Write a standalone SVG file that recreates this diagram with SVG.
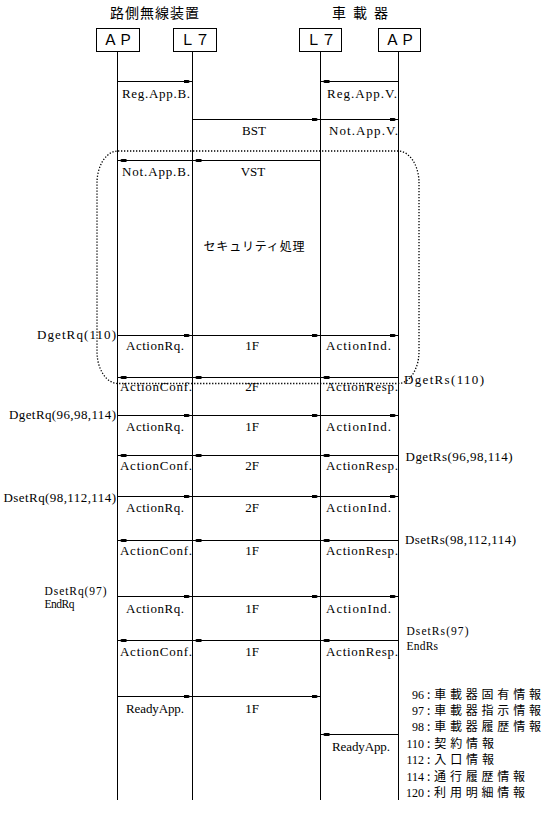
<svg xmlns="http://www.w3.org/2000/svg" width="547" height="835" viewBox="0 0 547 835">
<style>
.bg{fill:#fff}
.box{fill:#fff;stroke:#000;stroke-width:1}
.life{stroke:#000;stroke-width:1}
.msg{stroke:#000;stroke-width:1;marker-end:url(#h)}
.dot{fill:none;stroke:#000;stroke-width:1.3;stroke-dasharray:1.3 1.7}
.lb{font-family:"Liberation Serif",serif;font-size:13px;fill:#000}
.sm{font-size:11.5px}
.jp{font-family:"Noto Sans CJK JP",sans-serif;fill:#000}
.lg{font-size:12px}
.mid{text-anchor:middle}
.end{text-anchor:end}
</style>
<defs>
<marker id="h" viewBox="0 -2 8 4" markerWidth="8" markerHeight="4" refX="9" refY="0" orient="auto" markerUnits="userSpaceOnUse">
<path d="M0,-1.5 L5,-1.5 L7,0 L5,1.5 L0,1.5 z" fill="#000"/>
</marker>
</defs>
<rect class="bg" x="0" y="0" width="547" height="835"/>
<g id="titles">
<text class="jp mid" x="154.5" y="18" font-size="14" textLength="89" lengthAdjust="spacing">路側無線装置</text>
<text class="jp mid" x="360" y="18" font-size="14" textLength="56" lengthAdjust="spacing">車 載 器</text>
</g>
<g id="ap_rsu">
<rect class="box" x="96.5" y="28.5" width="43" height="23"/>
<text class="jp mid" x="118" y="45" font-size="15">ＡＰ</text>
<line class="life" x1="117.5" y1="51.5" x2="117.5" y2="800"/>
</g>
<g id="l7_rsu">
<rect class="box" x="173.5" y="28.5" width="43" height="23"/>
<text class="jp mid" x="195" y="45" font-size="15">Ｌ７</text>
<line class="life" x1="192.5" y1="51.5" x2="192.5" y2="800"/>
</g>
<g id="l7_obu">
<rect class="box" x="299.5" y="28.5" width="42" height="23"/>
<text class="jp mid" x="321" y="45" font-size="15">Ｌ７</text>
<line class="life" x1="320.5" y1="51.5" x2="320.5" y2="800"/>
</g>
<g id="ap_obu">
<rect class="box" x="378.5" y="28.5" width="42" height="23"/>
<text class="jp mid" x="400" y="45" font-size="15">ＡＰ</text>
<line class="life" x1="398.5" y1="51.5" x2="398.5" y2="800"/>
</g>
<g id="security">
<rect class="dot" x="97" y="151" width="322" height="232.5" rx="21" ry="32"/>
<text class="jp mid" x="254" y="250.5" font-size="12" textLength="101" lengthAdjust="spacing">セキュリティ処理</text>
</g>
<g id="connectors">
<line class="msg" x1="117.5" y1="81.5" x2="192.5" y2="81.5"/>
<line class="msg" x1="398.5" y1="81.5" x2="320.5" y2="81.5"/>
<line class="msg" x1="192.5" y1="119.5" x2="320.5" y2="119.5"/>
<line class="msg" x1="320.5" y1="119.5" x2="398.5" y2="119.5"/>
<line class="msg" x1="320.5" y1="160.5" x2="192.5" y2="160.5"/>
<line class="msg" x1="192.5" y1="160.5" x2="117.5" y2="160.5"/>
<line class="msg" x1="117.5" y1="335.5" x2="192.5" y2="335.5"/>
<line class="msg" x1="192.5" y1="335.5" x2="320.5" y2="335.5"/>
<line class="msg" x1="320.5" y1="335.5" x2="398.5" y2="335.5"/>
<line class="msg" x1="398.5" y1="377.5" x2="320.5" y2="377.5"/>
<line class="msg" x1="320.5" y1="377.5" x2="192.5" y2="377.5"/>
<line class="msg" x1="192.5" y1="377.5" x2="117.5" y2="377.5"/>
<line class="msg" x1="117.5" y1="415.5" x2="192.5" y2="415.5"/>
<line class="msg" x1="192.5" y1="415.5" x2="320.5" y2="415.5"/>
<line class="msg" x1="320.5" y1="415.5" x2="398.5" y2="415.5"/>
<line class="msg" x1="398.5" y1="455.5" x2="320.5" y2="455.5"/>
<line class="msg" x1="320.5" y1="455.5" x2="192.5" y2="455.5"/>
<line class="msg" x1="192.5" y1="455.5" x2="117.5" y2="455.5"/>
<line class="msg" x1="117.5" y1="496.5" x2="192.5" y2="496.5"/>
<line class="msg" x1="192.5" y1="496.5" x2="320.5" y2="496.5"/>
<line class="msg" x1="320.5" y1="496.5" x2="398.5" y2="496.5"/>
<line class="msg" x1="398.5" y1="540.5" x2="320.5" y2="540.5"/>
<line class="msg" x1="320.5" y1="540.5" x2="192.5" y2="540.5"/>
<line class="msg" x1="192.5" y1="540.5" x2="117.5" y2="540.5"/>
<line class="msg" x1="117.5" y1="596.5" x2="192.5" y2="596.5"/>
<line class="msg" x1="192.5" y1="596.5" x2="320.5" y2="596.5"/>
<line class="msg" x1="320.5" y1="596.5" x2="398.5" y2="596.5"/>
<line class="msg" x1="398.5" y1="640.5" x2="320.5" y2="640.5"/>
<line class="msg" x1="320.5" y1="640.5" x2="192.5" y2="640.5"/>
<line class="msg" x1="192.5" y1="640.5" x2="117.5" y2="640.5"/>
<line class="msg" x1="117.5" y1="696.5" x2="192.5" y2="696.5"/>
<line class="msg" x1="192.5" y1="696.5" x2="320.5" y2="696.5"/>
<line class="msg" x1="398.5" y1="734.5" x2="320.5" y2="734.5"/>
</g>
<g id="labels">
<text class="lb" x="122" y="97.5" textLength="68" lengthAdjust="spacing">Reg.App.B.</text>
<text class="lb" x="327" y="97.5" textLength="70" lengthAdjust="spacing">Reg.App.V.</text>
<text class="lb mid" x="254" y="135">BST</text>
<text class="lb" x="329" y="135" textLength="69" lengthAdjust="spacing">Not.App.V.</text>
<text class="lb" x="122" y="176" textLength="68" lengthAdjust="spacing">Not.App.B.</text>
<text class="lb mid" x="253" y="176">VST</text>

<text class="lb" x="37" y="339" textLength="79" lengthAdjust="spacing">DgetRq(110)</text>
<text class="lb" x="126" y="349.5" textLength="58" lengthAdjust="spacing">ActionRq.</text>
<text class="lb mid" x="252" y="349.5">1F</text>
<text class="lb" x="326" y="349.5" textLength="65" lengthAdjust="spacing">ActionInd.</text>

<text class="lb" x="404" y="383.5" textLength="80" lengthAdjust="spacing">DgetRs(110)</text>
<text class="lb" x="120" y="390.5" textLength="72" lengthAdjust="spacing">ActionConf.</text>
<text class="lb mid" x="252" y="390.5">2F</text>
<text class="lb" x="326" y="390.5" textLength="72" lengthAdjust="spacing">ActionResp.</text>

<text class="lb" x="9" y="418.5" textLength="107" lengthAdjust="spacing">DgetRq(96,98,114)</text>
<text class="lb" x="126" y="431" textLength="58" lengthAdjust="spacing">ActionRq.</text>
<text class="lb mid" x="252" y="431">1F</text>
<text class="lb" x="326" y="431" textLength="65" lengthAdjust="spacing">ActionInd.</text>

<text class="lb" x="405.5" y="461" textLength="107" lengthAdjust="spacing">DgetRs(96,98,114)</text>
<text class="lb" x="120" y="470" textLength="72" lengthAdjust="spacing">ActionConf.</text>
<text class="lb mid" x="252" y="470">2F</text>
<text class="lb" x="326" y="470" textLength="72" lengthAdjust="spacing">ActionResp.</text>

<text class="lb" x="3.5" y="502" textLength="112.5" lengthAdjust="spacing">DsetRq(98,112,114)</text>
<text class="lb" x="126" y="512" textLength="58" lengthAdjust="spacing">ActionRq.</text>
<text class="lb mid" x="252" y="512">2F</text>
<text class="lb" x="326" y="512" textLength="65" lengthAdjust="spacing">ActionInd.</text>

<text class="lb" x="405" y="543.5" textLength="111" lengthAdjust="spacing">DsetRs(98,112,114)</text>
<text class="lb" x="120" y="554.5" textLength="72" lengthAdjust="spacing">ActionConf.</text>
<text class="lb mid" x="252" y="554.5">1F</text>
<text class="lb" x="326" y="554.5" textLength="72" lengthAdjust="spacing">ActionResp.</text>

<text class="lb sm" x="44.5" y="594.5" textLength="62" lengthAdjust="spacing">DsetRq(97)</text>
<text class="lb sm" x="44.5" y="608" textLength="30" lengthAdjust="spacing">EndRq</text>
<text class="lb" x="126" y="612.5" textLength="58" lengthAdjust="spacing">ActionRq.</text>
<text class="lb mid" x="252" y="612.5">1F</text>
<text class="lb" x="326" y="612.5" textLength="65" lengthAdjust="spacing">ActionInd.</text>

<text class="lb sm" x="406.5" y="635" textLength="62" lengthAdjust="spacing">DsetRs(97)</text>
<text class="lb sm" x="406.5" y="649.5" textLength="31.5" lengthAdjust="spacing">EndRs</text>
<text class="lb" x="120" y="656" textLength="72" lengthAdjust="spacing">ActionConf.</text>
<text class="lb mid" x="252" y="656">1F</text>
<text class="lb" x="326" y="656" textLength="72" lengthAdjust="spacing">ActionResp.</text>

<text class="lb" x="126" y="712.5" textLength="58" lengthAdjust="spacing">ReadyApp.</text>
<text class="lb mid" x="252" y="712.5">1F</text>
<text class="lb" x="332" y="750.5" textLength="58" lengthAdjust="spacing">ReadyApp.</text>
</g>
<g id="legend">
<text class="lb lg end" x="424" y="698.8">96</text>
<text class="jp lg" x="427" y="698.8" textLength="114" lengthAdjust="spacing">:車載器固有情報</text>
<text class="lb lg end" x="424" y="715.3">97</text>
<text class="jp lg" x="427" y="715.3" textLength="114" lengthAdjust="spacing">:車載器指示情報</text>
<text class="lb lg end" x="424" y="731.3">98</text>
<text class="jp lg" x="427" y="731.3" textLength="114" lengthAdjust="spacing">:車載器履歴情報</text>
<text class="lb lg end" x="424" y="748.3">110</text>
<text class="jp lg" x="427" y="748.3" textLength="67" lengthAdjust="spacing">:契約情報</text>
<text class="lb lg end" x="424" y="764.3">112</text>
<text class="jp lg" x="427" y="764.3" textLength="67" lengthAdjust="spacing">:入口情報</text>
<text class="lb lg end" x="424" y="780.8">114</text>
<text class="jp lg" x="427" y="780.8" textLength="98" lengthAdjust="spacing">:通行履歴情報</text>
<text class="lb lg end" x="424" y="797.3">120</text>
<text class="jp lg" x="427" y="797.3" textLength="98" lengthAdjust="spacing">:利用明細情報</text>
</g>
</svg>
